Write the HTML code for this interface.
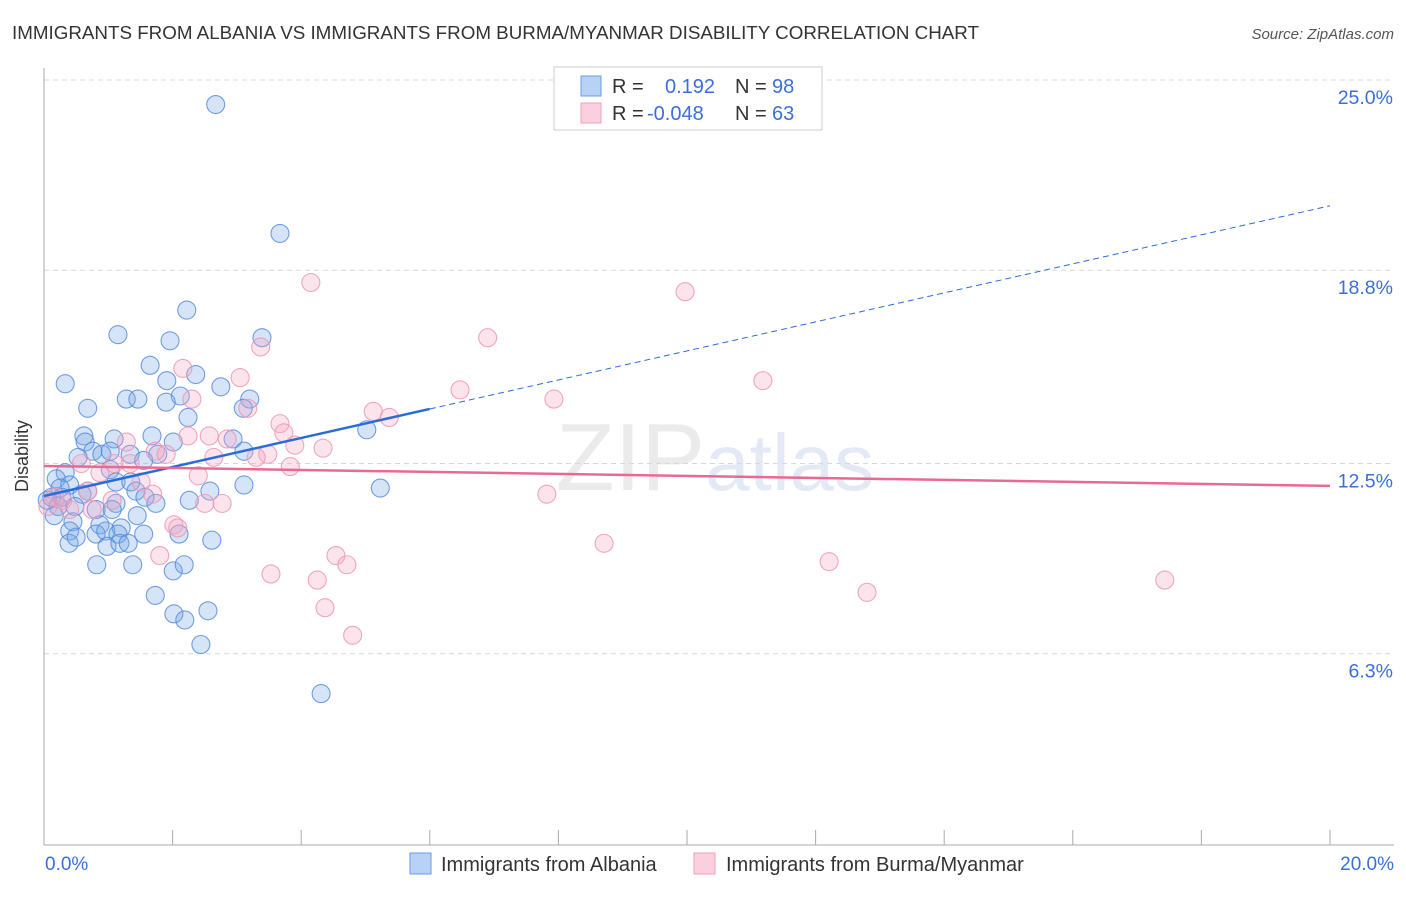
<!DOCTYPE html>
<html><head><meta charset="utf-8"><style>
body{margin:0;background:#fff;font-family:"Liberation Sans",sans-serif}
svg text{font-family:"Liberation Sans",sans-serif}
</style></head><body>
<svg id="chart" width="1406" height="892" xmlns="http://www.w3.org/2000/svg">
<text x="12" y="39" font-size="18.8" fill="#333">IMMIGRANTS FROM ALBANIA VS IMMIGRANTS FROM BURMA/MYANMAR DISABILITY CORRELATION CHART</text>
<text x="1394" y="39" font-size="15" fill="#555" font-style="italic" text-anchor="end">Source: ZipAtlas.com</text>
<text x="715" y="490" font-size="96" fill="#ebebeb" text-anchor="middle" font-family="Liberation Serif">ZIP<tspan fill="#e3eaf6" font-family="Liberation Sans" font-size="80">atlas</tspan></text>
<g id="grid"></g><g id="axes"></g><g id="pts"></g><g id="trend"></g>
<text x="28" y="456" font-size="18" fill="#333" transform="rotate(-90 28 456)" text-anchor="middle">Disability</text>
<text x="45" y="870" font-size="19" fill="#3a6fd8">0.0%</text>
<text x="1394" y="870" font-size="19" fill="#3a6fd8" text-anchor="end">20.0%</text>
<g>
<rect x="554" y="67" width="268" height="63" fill="#fff" stroke="#ccc"/>
<rect x="581" y="76" width="20" height="20" fill="#b8d2f5" stroke="#6a9ae6"/>
<rect x="581" y="103" width="20" height="20" fill="#fbd0de" stroke="#f0a0b8"/>
<text x="612" y="93" font-size="20" fill="#333">R = </text><text x="665" y="93" font-size="20" fill="#3a6fd8">0.192</text>
<text x="735" y="93" font-size="20" fill="#333">N = </text><text x="772" y="93" font-size="20" fill="#3a6fd8">98</text>
<text x="612" y="120" font-size="20" fill="#333">R = </text><text x="647" y="120" font-size="20" fill="#3a6fd8">-0.048</text>
<text x="735" y="120" font-size="20" fill="#333">N = </text><text x="772" y="120" font-size="20" fill="#3a6fd8">63</text>
</g>
<g>
<rect x="410" y="853" width="21" height="21" fill="#b8d2f5" stroke="#6a9ae6"/>
<text x="441" y="871" font-size="20" fill="#333">Immigrants from Albania</text>
<rect x="694" y="853" width="21" height="21" fill="#fbd0de" stroke="#f0a0b8"/>
<text x="726" y="871" font-size="20" fill="#333">Immigrants from Burma/Myanmar</text>
</g>
</svg>
<script>
const yTicks=[25,18.8,12.5,6.3];
const yTickLabels=["25.0%","18.8%","12.5%","6.3%"];
const blueX=[2.67,3.67,2.22,1.15,1.96,3.39,1.65,0.33,1.91,2.36,2.75,1.28,1.46,2.12,0.68,1.90,3.20,3.10,2.24,5.02,0.62,1.68,1.09,0.64,2.94,2.01,0.76,0.90,0.53,1.34,1.77,3.11,1.55,0.33,1.03,0.19,0.40,0.25,1.12,1.35,3.11,5.23,2.58,0.59,1.43,0.12,0.68,1.57,2.26,1.74,0.22,0.48,1.12,0.81,1.06,0.16,1.45,0.45,0.87,1.20,0.40,1.55,0.81,0.96,1.15,2.10,2.61,0.39,0.50,0.98,1.18,1.31,0.82,1.38,2.01,2.18,1.73,2.02,2.19,2.55,2.44,4.31,1.03,0.28,0.05];
const blueY=[24.2,20.0,17.5,16.7,16.5,16.6,15.7,15.1,15.2,15.4,15.0,14.6,14.6,14.7,14.3,14.5,14.6,14.3,14.0,13.6,13.4,13.4,13.3,13.2,13.3,13.2,12.9,12.8,12.7,12.8,12.8,12.9,12.6,12.2,12.3,12.0,11.8,11.7,11.9,11.9,11.8,11.7,11.6,11.5,11.6,11.4,11.6,11.4,11.3,11.2,11.1,11.1,11.2,11.0,11.0,10.8,10.8,10.6,10.5,10.4,10.3,10.2,10.2,10.3,10.2,10.2,10.0,9.9,10.1,9.8,9.9,9.9,9.2,9.2,9.0,9.2,8.2,7.6,7.4,7.7,6.6,5.0,12.9,11.4,11.3];
const pinkX=[4.15,9.97,6.90,3.37,2.16,3.05,11.18,6.47,7.93,2.30,3.17,5.12,5.37,3.67,3.73,2.24,2.57,2.85,1.28,3.90,4.34,1.73,3.48,1.90,2.64,3.30,0.58,1.09,3.83,0.87,2.40,1.51,0.68,7.82,1.69,2.50,2.77,1.06,0.29,0.40,0.75,2.02,2.08,8.71,1.80,4.54,4.71,12.21,3.53,4.25,17.43,12.80,4.37,4.80,0.17,0.06,1.34];
const pinkY=[18.4,18.1,16.6,16.3,15.6,15.3,15.2,14.9,14.6,14.6,14.3,14.2,14.0,13.8,13.5,13.4,13.4,13.3,13.2,13.1,13.0,12.9,12.8,12.8,12.7,12.7,12.5,12.5,12.4,12.2,12.1,11.9,11.6,11.5,11.5,11.2,11.2,11.3,11.3,11.0,11.0,10.5,10.4,9.9,9.5,9.5,9.2,9.3,8.9,8.7,8.7,8.3,7.8,6.9,11.4,11.1,12.5];
const blueTrend=[11.44,20.9];
const pinkTrend=[12.42,11.77];
const NS="http://www.w3.org/2000/svg";
const sx=v=>44+v*64.3, sy=v=>847-v*30.68;
function mk(parent,tag,attrs){const e=document.createElementNS(NS,tag);for(const k in attrs)e.setAttribute(k,attrs[k]);document.getElementById(parent).appendChild(e);return e;}
yTicks.forEach((t,i)=>{
 const l=mk('grid','line',{x1:44,x2:1394,y1:sy(t),y2:sy(t),stroke:'#d8d8d8','stroke-dasharray':'5,4'});
 
 
 const tx=mk('grid','text',{x:1393,y:sy(t)+24,'font-size':19.5,fill:'#3a6fd8','text-anchor':'end'});
 tx.textContent=yTickLabels[i];
 
 
});
const ax=mk('axes','line',{x1:44,x2:44,y1:68,y2:845,stroke:'#aaa'});


const bx=mk('axes','line',{x1:44,x2:1394,y1:845,y2:845,stroke:'#aaa'});


for(let i=0;i<=10;i++){const t=mk('axes','line',{x1:sx(i*2),x2:sx(i*2),y1:830,y2:845,stroke:'#aaa'});
 
 }
blueX.forEach((x,i)=>{const c=mk('pts','circle',{cx:sx(x),cy:sy(blueY[i]),r:9,fill:'rgba(120,165,230,0.3)',stroke:'rgba(80,135,220,0.8)','stroke-width':1.1});
 
 });
pinkX.forEach((x,i)=>{const c=mk('pts','circle',{cx:sx(x),cy:sy(pinkY[i]),r:9,fill:'rgba(245,165,195,0.3)',stroke:'rgba(238,150,180,0.85)','stroke-width':1.1});
 
 });
const bAt=x=>blueTrend[0]+(blueTrend[1]-blueTrend[0])*x/20;
const t1=mk('trend','line',{x1:sx(0),y1:sy(bAt(0)),x2:sx(6),y2:sy(bAt(6)),stroke:'#2b6cd4','stroke-width':2.5});


const t2=mk('trend','line',{x1:sx(6),y1:sy(bAt(6)),x2:sx(20),y2:sy(bAt(20)),stroke:'#2b6cd4','stroke-width':1,'stroke-dasharray':'6,4'});


const t3=mk('trend','line',{x1:sx(0),y1:sy(pinkTrend[0]),x2:sx(20),y2:sy(pinkTrend[1]),stroke:'#e86a92','stroke-width':2.5});


</script>
</body></html>
